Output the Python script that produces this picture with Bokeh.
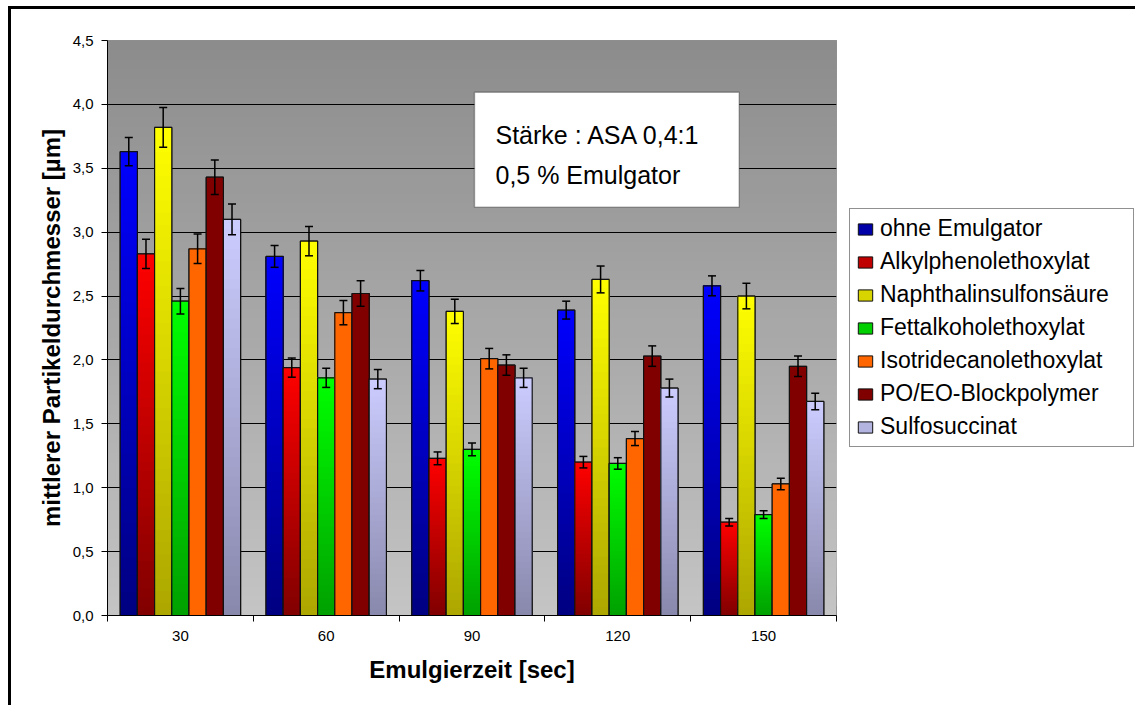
import numpy as np
from bokeh.plotting import figure
from bokeh.models import (ColumnDataSource, FixedTicker, Legend, LegendItem, Whisker,
                          TeeHead, BoxAnnotation, Label, Range1d)
from bokeh.embed import file_html
from bokeh.resources import INLINE

# ---------------- data ----------------
categories = ["30", "60", "90", "120", "150"]
series_names = ["ohne Emulgator", "Alkylphenolethoxylat", "Naphthalinsulfonsäure",
                "Fettalkoholethoxylat", "Isotridecanolethoxylat", "PO/EO-Blockpolymer",
                "Sulfosuccinat"]
ohne_emulgator = [3.63, 2.81, 2.62, 2.39, 2.58]
alkylphenolethoxylat = [2.83, 1.94, 1.23, 1.20, 0.73]
naphthalinsulfonsaeure = [3.82, 2.93, 2.38, 2.63, 2.50]
fettalkoholethoxylat = [2.46, 1.86, 1.30, 1.19, 0.79]
isotridecanolethoxylat = [2.87, 2.37, 2.01, 1.385, 1.03]
po_eo_blockpolymer = [3.43, 2.52, 1.96, 2.03, 1.95]
sulfosuccinat = [3.10, 1.85, 1.86, 1.78, 1.675]

err_ohne = [0.11, 0.085, 0.08, 0.07, 0.078]
err_alkyl = [0.115, 0.075, 0.05, 0.045, 0.03]
err_naph = [0.155, 0.115, 0.095, 0.105, 0.10]
err_fett = [0.10, 0.075, 0.05, 0.045, 0.03]
err_iso = [0.115, 0.095, 0.08, 0.055, 0.045]
err_po = [0.135, 0.10, 0.08, 0.08, 0.08]
err_sulfo = [0.12, 0.075, 0.075, 0.07, 0.065]

y_ticks = [0.0, 0.5, 1.0, 1.5, 2.0, 2.5, 3.0, 3.5, 4.0, 4.5]
y_tick_labels = ["0,0", "0,5", "1,0", "1,5", "2,0", "2,5", "3,0", "3,5", "4,0", "4,5"]

values = [ohne_emulgator, alkylphenolethoxylat, naphthalinsulfonsaeure, fettalkoholethoxylat,
          isotridecanolethoxylat, po_eo_blockpolymer, sulfosuccinat]
errors = [err_ohne, err_alkyl, err_naph, err_fett, err_iso, err_po, err_sulfo]

# gradient colours (top, bottom) and legend colour
top_cols = [(0, 0, 255), (255, 0, 0), (255, 255, 0), (0, 255, 0), (255, 102, 0), (128, 0, 0), (204, 204, 255)]
bot_cols = [(0, 0, 128), (128, 0, 0), (172, 166, 0), (0, 160, 0), (255, 102, 0), (128, 0, 0), (136, 136, 172)]
legend_cols = ["#0000a8", "#c00000", "#d8d400", "#00d000", "#ff6600", "#800000", "#b4b4e0"]

FONT = "Liberation Sans"


def hexcol(c):
    return "#%02x%02x%02x" % tuple(int(round(v)) for v in c)


def lerp(a, b, t):
    return tuple(a[i] + (b[i] - a[i]) * t for i in range(3))


n_cat = len(categories)
n_ser = len(series_names)
bar_w = 0.118

p = figure(frame_width=729, frame_height=575, output_backend="svg", toolbar_location=None,
           x_range=Range1d(0, n_cat), y_range=Range1d(0, 4.5),
           min_border_left=96, min_border_right=297, min_border_top=31, min_border_bottom=90)
p.styles = {"margin-left": "8px", "margin-top": "6px",
            "border-top": "3px solid black", "border-left": "3px solid black"}
p.background_fill_color = "#c0c0c0"
p.border_fill_color = "white"
p.outline_line_color = "#808080"
p.outline_line_width = 1

# background gradient (plot area)
nb = 60
bg_bottom = [k / nb * 4.5 for k in range(nb)]
bg_cols = [hexcol(lerp((196, 196, 196), (140, 140, 140), (k + 0.5) / nb)) for k in range(nb)]
bg_src = ColumnDataSource(dict(bottom=bg_bottom, top=[4.5] * nb, left=[0] * nb,
                               right=[n_cat] * nb, color=bg_cols))
p.quad(left="left", right="right", bottom="bottom", top="top", fill_color="color",
       line_color=None, source=bg_src, level="image")

# grid
p.xgrid.visible = False
p.ygrid.ticker = FixedTicker(ticks=y_ticks[1:-1])
p.ygrid.grid_line_color = "black"
p.ygrid.grid_line_width = 1

# bars with vertical gradient
ns = 40
legend_items = []
for j in range(n_ser):
    xs = [i + 0.5 + (j - (n_ser - 1) / 2) * bar_w for i in range(n_cat)]
    # base bars (solid colour, also used for the legend glyph)
    base = p.quad(left=[x - bar_w / 2 for x in xs], right=[x + bar_w / 2 for x in xs],
                  bottom=[0] * n_cat, top=values[j], fill_color=legend_cols[j],
                  line_color="#111111", line_width=1)
    legend_items.append(LegendItem(label=series_names[j], renderers=[base]))
    L, R, B, T, C = [], [], [], [], []
    for i in range(n_cat):
        v = values[j][i]
        for k in range(ns):
            L.append(xs[i] - bar_w / 2)
            R.append(xs[i] + bar_w / 2)
            B.append(k / ns * v)
            T.append(v)
            C.append(hexcol(lerp(bot_cols[j], top_cols[j], (k + 0.5) / ns)))
    p.quad(left=L, right=R, bottom=B, top=T, fill_color=C, line_color=None)
    p.quad(left=[x - bar_w / 2 for x in xs], right=[x + bar_w / 2 for x in xs],
           bottom=[0] * n_cat, top=values[j], fill_alpha=0, line_color="#111111", line_width=1.2)
    esrc = ColumnDataSource(dict(x=xs, upper=[v + e for v, e in zip(values[j], errors[j])],
                                 lower=[v - e for v, e in zip(values[j], errors[j])]))
    w = Whisker(base="x", upper="upper", lower="lower", source=esrc, line_color="black",
                line_width=1.5, level="annotation",
                upper_head=TeeHead(size=8, line_color="black", line_width=1.5),
                lower_head=TeeHead(size=8, line_color="black", line_width=1.5))
    p.add_layout(w)

# axes
xa = p.xaxis[0]
xa.ticker = FixedTicker(ticks=[i + 0.5 for i in range(n_cat)], minor_ticks=list(range(n_cat + 1)))
xa.major_label_overrides = {i + 0.5: categories[i] for i in range(n_cat)}
xa.major_tick_out = 0
xa.major_tick_in = 0
xa.minor_tick_out = 6
xa.minor_tick_in = 0
xa.minor_tick_line_color = "black"
xa.axis_line_color = "black"
xa.major_label_standoff = 9
xa.major_label_text_font = FONT
xa.major_label_text_font_size = "15px"
xa.major_label_text_color = "black"
xa.axis_label = "Emulgierzeit [sec]"
xa.axis_label_text_font = FONT
xa.axis_label_text_font_size = "24px"
xa.axis_label_text_font_style = "bold"
xa.axis_label_text_color = "black"
xa.axis_label_standoff = 12

ya = p.yaxis[0]
ya.ticker = FixedTicker(ticks=y_ticks, minor_ticks=[])
ya.major_label_overrides = {t: s for t, s in zip(y_ticks, y_tick_labels)}
ya.major_tick_out = 6
ya.major_tick_in = 0
ya.major_tick_line_color = "black"
ya.axis_line_color = "black"
ya.major_label_standoff = 8
ya.major_label_text_font = FONT
ya.major_label_text_font_size = "15px"
ya.major_label_text_color = "black"
ya.axis_label = "mittlerer Partikeldurchmesser [µm]"
ya.axis_label_text_font = FONT
ya.axis_label_text_font_size = "24px"
ya.axis_label_text_font_style = "bold"
ya.axis_label_text_color = "black"
ya.axis_label_standoff = 5

# text box
box = BoxAnnotation(left=2.517, right=4.333, top=4.095, bottom=3.195, fill_color="white",
                    fill_alpha=1, line_color="black", line_width=1.5)
p.add_layout(box)
for txt, yy in [("Stärke : ASA 0,4:1", 3.761), ("0,5 % Emulgator", 3.451)]:
    p.add_layout(Label(x=2.661, y=yy, text=txt, text_font=FONT, text_font_size="25px",
                       text_color="black", text_baseline="alphabetic"))

legend = Legend(items=legend_items, location=(13, 168), label_text_font=FONT,
                label_text_font_size="23px", label_text_color="black",
                glyph_width=18, glyph_height=14, label_standoff=6, label_width=247,
                padding=6, spacing=6, margin=0, border_line_color="#222222",
                border_line_width=1, background_fill_color="white", background_fill_alpha=1)
p.add_layout(legend, "right")

open("out.html", "w").write(file_html(p, INLINE))
